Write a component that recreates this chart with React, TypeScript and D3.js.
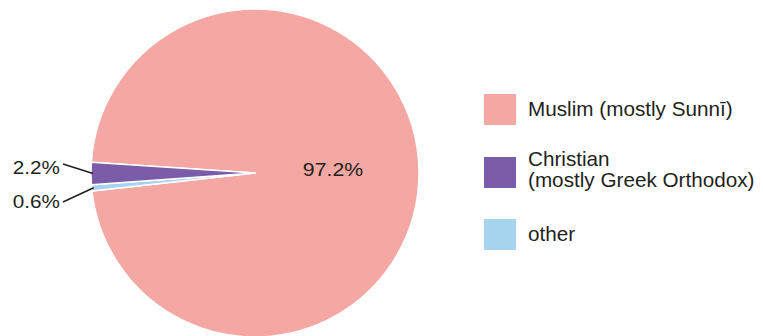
import React from "react";
import * as d3 from "d3";

const categories = ["Muslim (mostly Sunnī)", "Christian (mostly Greek Orthodox)", "other"];
const values = [97.2, 2.2, 0.6];
const valueLabels = ["97.2%", "2.2%", "0.6%"];
const legendLines = [["Muslim (mostly Sunnī)"], ["Christian", "(mostly Greek Orthodox)"], ["other"]];
const colors = ["#F5A7A3", "#7A5CA9", "#A6D4EF"];
// order in which slices are laid out clockwise
const pieOrder = [0, 2, 1];

const W = 763;
const H = 336;
const cx = 255;
const cy = 173;
const R = 164;
const startDeg = 273.8;
const FONT = "'Liberation Sans', Arial, Helvetica, sans-serif";
const TEXT = "#231F20";

export default function App() {
  const data = pieOrder.map((i) => ({ i, v: values[i] }));
  const pie = d3
    .pie<{ i: number; v: number }>()
    .sort(null)
    .value((d) => d.v)
    .startAngle((startDeg * Math.PI) / 180)
    .endAngle((startDeg * Math.PI) / 180 + 2 * Math.PI);
  const arcs = pie(data);
  const arc = d3.arc<d3.PieArcDatum<{ i: number; v: number }>>().innerRadius(0).outerRadius(R);
  const byIdx: Record<number, d3.PieArcDatum<{ i: number; v: number }>> = {};
  arcs.forEach((a) => (byIdx[a.data.i] = a));

  const pointAt = (a: d3.PieArcDatum<any>, r: number) => {
    const m = (a.startAngle + a.endAngle) / 2;
    return [cx + r * Math.sin(m), cy - r * Math.cos(m)];
  };

  const outerLabels = [
    { idx: 1, lx: 63, ly: 164, tx: 60, ty: 174 },
    { idx: 2, lx: 63, ly: 202, tx: 60, ty: 208 },
  ];

  return (
    <svg width={W} height={H} style={{ position: "absolute", left: 0, top: 0 }} fontFamily={FONT}>
      <rect width={W} height={H} fill="#fff" />
      <g>
        {arcs.map((a) => (
          <path
            key={a.data.i}
            d={arc(a) || ""}
            transform={`translate(${cx},${cy})`}
            fill={colors[a.data.i]}
            stroke="#fff"
            strokeWidth={1.5}
            strokeLinejoin="round"
          />
        ))}
      </g>
      <text x={333} y={176} textAnchor="middle" fontSize={19} fill={TEXT} transform="translate(333,0) scale(1.12,1) translate(-333,0)">
        {valueLabels[0]}
      </text>
      {outerLabels.map((l) => {
        const [px, py] = pointAt(byIdx[l.idx], R - 2);
        return (
          <g key={l.idx}>
            <line x1={l.lx} y1={l.ly} x2={px} y2={py} stroke={TEXT} strokeWidth={1.6} />
            <text
              x={l.tx}
              y={l.ty}
              textAnchor="end"
              fontSize={18}
              fill={TEXT}
              transform={`translate(${l.tx},0) scale(1.15,1) translate(${-l.tx},0)`}
            >
              {valueLabels[l.idx]}
            </text>
          </g>
        );
      })}
      <g>
        {categories.map((c, i) => {
          const ys = [94, 157, 219];
          const y = ys[i];
          return (
            <g key={c}>
              <rect x={484} y={y} width={32} height={31} fill={colors[i]} />
              {legendLines[i].map((t, k) => (
                <text
                  key={k}
                  x={528}
                  y={legendLines[i].length === 1 ? y + 22 : y + 9 + k * 21}
                  fontSize={20.7}
                  fill={TEXT}
                >
                  {t}
                </text>
              ))}
            </g>
          );
        })}
      </g>
    </svg>
  );
}
